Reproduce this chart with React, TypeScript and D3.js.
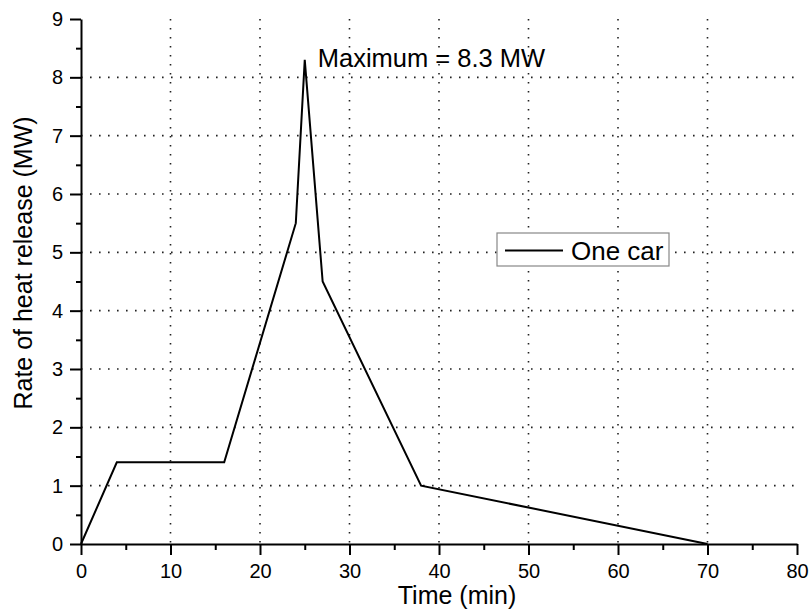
import React, { useEffect, useRef } from 'react';
import * as d3 from 'd3';

// 数据：时间 (min) 与热释放速率 (MW)
const timeMin = [0, 4, 16, 24, 25, 27, 38, 70];
const hrrMW = [0, 1.4, 1.4, 5.5, 8.3, 4.5, 1.0, 0];
const xTicks = [0, 10, 20, 30, 40, 50, 60, 70, 80];
const yTicks = [0, 1, 2, 3, 4, 5, 6, 7, 8, 9];
const seriesName = 'One car';
const peakLabel = 'Maximum = 8.3 MW';
const xTitle = 'Time (min)';
const yTitle = 'Rate of heat release (MW)';

const W = 810;
const H = 609;
const margin = { top: 19, right: 13, bottom: 65, left: 81 };
const font = '"Liberation Sans", Arial, sans-serif';

export default function App() {
  const ref = useRef<SVGSVGElement>(null);

  function draw() {
    const svg = d3.select(ref.current);
    svg.selectAll('*').remove();

    const x = d3.scaleLinear().domain([0, 80]).range([margin.left, W - margin.right]);
    const y = d3.scaleLinear().domain([0, 9]).range([H - margin.bottom, margin.top]);

    // 网格 (虚点线)
    const grid = svg.append('g')
      .attr('stroke', '#222')
      .attr('stroke-width', 1.6)
      .attr('stroke-dasharray', '1.6,7.4');
    grid.selectAll('line.gx')
      .data(xTicks.filter(t => t > 0 && t < 80))
      .enter().append('line')
      .attr('x1', d => x(d)).attr('x2', d => x(d))
      .attr('y1', y(9)).attr('y2', y(0));
    grid.selectAll('line.gy')
      .data(yTicks.filter(t => t > 0 && t < 9))
      .enter().append('line')
      .attr('x1', x(0)).attr('x2', x(80))
      .attr('y1', d => y(d)).attr('y2', d => y(d));

    // 次刻度
    svg.append('g')
      .attr('transform', `translate(0,${y(0)})`)
      .call(d3.axisBottom(x).tickValues(d3.range(5, 80, 10)).tickSize(6).tickFormat(() => ''))
      .call(g => g.select('.domain').remove())
      .selectAll('line').attr('stroke', '#000').attr('stroke-width', 2);
    svg.append('g')
      .attr('transform', `translate(${x(0)},0)`)
      .call(d3.axisLeft(y).tickValues(d3.range(0.5, 9, 1)).tickSize(5).tickFormat(() => ''))
      .call(g => g.select('.domain').remove())
      .selectAll('line').attr('stroke', '#000').attr('stroke-width', 2);

    // 主坐标轴
    const xAxis = svg.append('g')
      .attr('transform', `translate(0,${y(0)})`)
      .call(d3.axisBottom(x).tickValues(xTicks).tickSize(11).tickSizeOuter(0).tickPadding(9));
    const yAxis = svg.append('g')
      .attr('transform', `translate(${x(0)},0)`)
      .call(d3.axisLeft(y).tickValues(yTicks).tickSize(11).tickSizeOuter(0).tickPadding(7));
    [xAxis, yAxis].forEach(a => {
      a.selectAll('line, path').attr('stroke', '#000').attr('stroke-width', 2);
      a.selectAll('text').attr('font-size', 20).attr('font-family', font).attr('fill', '#000');
    });
    xAxis.selectAll('text').attr('dy', '0.71em');

    // 轴标题
    svg.append('text')
      .attr('x', 457).attr('y', 604)
      .attr('text-anchor', 'middle')
      .attr('font-size', 25).attr('font-family', font)
      .text(xTitle);
    svg.append('text')
      .attr('transform', 'translate(32,263) rotate(-90)')
      .attr('text-anchor', 'middle')
      .attr('font-size', 25).attr('font-family', font)
      .text(yTitle);

    // 曲线
    const line = d3.line<number>()
      .x((_, i) => x(timeMin[i]))
      .y(d => y(d));
    svg.append('path')
      .attr('d', line(hrrMW) || '')
      .attr('fill', 'none')
      .attr('stroke', '#000')
      .attr('stroke-width', 2);

    // 峰值标注
    const peakIdx = hrrMW.indexOf(d3.max(hrrMW) as number);
    svg.append('text')
      .attr('x', x(timeMin[peakIdx]) + 13)
      .attr('y', y(hrrMW[peakIdx]) + 7)
      .attr('font-size', 25.5).attr('font-family', font)
      .text(peakLabel);

    // 图例
    const lg = svg.append('g');
    lg.append('rect')
      .attr('x', 497).attr('y', 233).attr('width', 172).attr('height', 33)
      .attr('fill', '#fff').attr('stroke', '#888').attr('stroke-width', 1.2);
    lg.append('line')
      .attr('x1', 505).attr('x2', 563).attr('y1', 250.5).attr('y2', 250.5)
      .attr('stroke', '#000').attr('stroke-width', 2);
    lg.append('text')
      .attr('x', 571).attr('y', 259.5)
      .attr('font-size', 26).attr('font-family', font)
      .text(seriesName);
  }

  useEffect(() => {
    draw();
  }, []);

  return (
    <svg ref={ref} width={W} height={H}
      style={{ position: 'absolute', left: 0, top: 0, background: '#fff' }} />
  );
}
